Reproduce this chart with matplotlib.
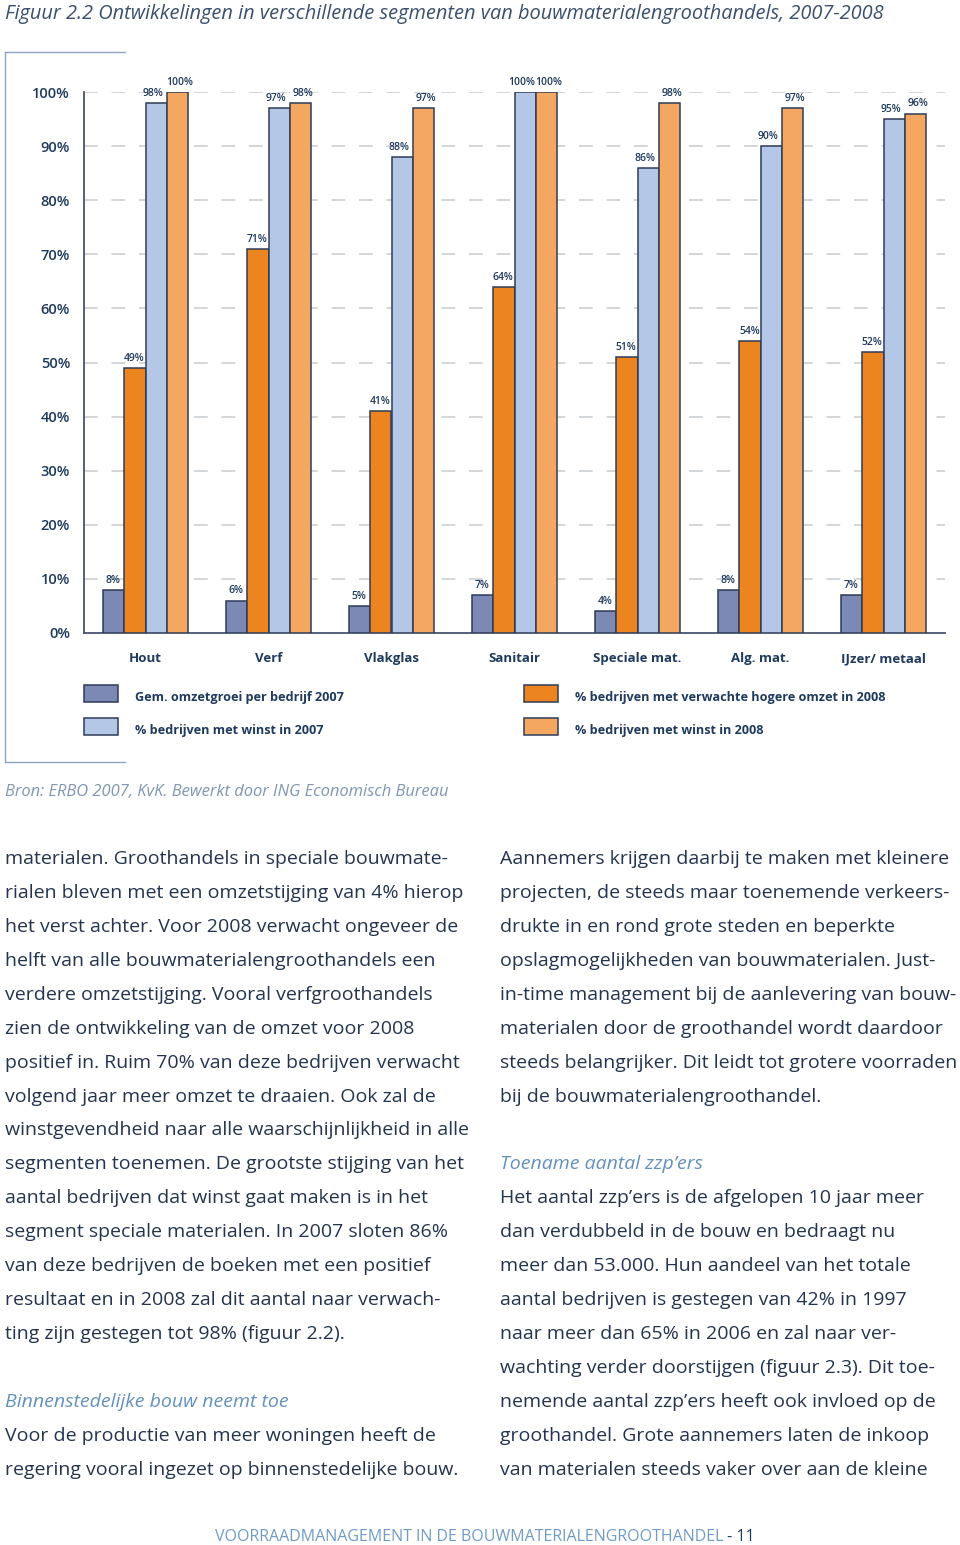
import matplotlib
matplotlib.use('Agg')
import matplotlib.pyplot as plt
import numpy as np
from matplotlib.lines import Line2D
from matplotlib.patches import Rectangle

plt.rcParams['font.family'] = ['Open Sans', 'DejaVu Sans']

# data
categories = ['Hout', 'Verf', 'Vlakglas', 'Sanitair', 'Speciale mat.', 'Alg. mat.', 'IJzer/ metaal']
omzetgroei_2007 = [8, 6, 5, 7, 4, 8, 7]
hogere_omzet_2008 = [49, 71, 41, 64, 51, 54, 52]
winst_2007 = [98, 97, 88, 100, 86, 90, 95]
winst_2008 = [100, 98, 97, 100, 98, 97, 96]
series_names = ['Gem. omzetgroei per bedrijf 2007',
                '% bedrijven met verwachte hogere omzet in 2008',
                '% bedrijven met winst in 2007',
                '% bedrijven met winst in 2008']
yticks = [0, 10, 20, 30, 40, 50, 60, 70, 80, 90, 100]

title = 'Figuur 2.2 Ontwikkelingen in verschillende segmenten van bouwmaterialengroothandels, 2007-2008'
source = 'Bron: ERBO 2007, KvK. Bewerkt door ING Economisch Bureau'

left_col = [
    'materialen. Groothandels in speciale bouwmate-',
    'rialen bleven met een omzetstijging van 4% hierop',
    'het verst achter. Voor 2008 verwacht ongeveer de',
    'helft van alle bouwmaterialengroothandels een',
    'verdere omzetstijging. Vooral verfgroothandels',
    'zien de ontwikkeling van de omzet voor 2008',
    'positief in. Ruim 70% van deze bedrijven verwacht',
    'volgend jaar meer omzet te draaien. Ook zal de',
    'winstgevendheid naar alle waarschijnlijkheid in alle',
    'segmenten toenemen. De grootste stijging van het',
    'aantal bedrijven dat winst gaat maken is in het',
    'segment speciale materialen. In 2007 sloten 86%',
    'van deze bedrijven de boeken met een positief',
    'resultaat en in 2008 zal dit aantal naar verwach-',
    'ting zijn gestegen tot 98% (figuur 2.2).',
    '',
    '#Binnenstedelijke bouw neemt toe',
    'Voor de productie van meer woningen heeft de',
    'regering vooral ingezet op binnenstedelijke bouw.',
]
right_col = [
    'Aannemers krijgen daarbij te maken met kleinere',
    'projecten, de steeds maar toenemende verkeers-',
    'drukte in en rond grote steden en beperkte',
    'opslagmogelijkheden van bouwmaterialen. Just-',
    'in-time management bij de aanlevering van bouw-',
    'materialen door de groothandel wordt daardoor',
    'steeds belangrijker. Dit leidt tot grotere voorraden',
    'bij de bouwmaterialengroothandel.',
    '',
    '#Toename aantal zzp\u2019ers',
    'Het aantal zzp\u2019ers is de afgelopen 10 jaar meer',
    'dan verdubbeld in de bouw en bedraagt nu',
    'meer dan 53.000. Hun aandeel van het totale',
    'aantal bedrijven is gestegen van 42% in 1997',
    'naar meer dan 65% in 2006 en zal naar ver-',
    'wachting verder doorstijgen (figuur 2.3). Dit toe-',
    'nemende aantal zzp\u2019ers heeft ook invloed op de',
    'groothandel. Grote aannemers laten de inkoop',
    'van materialen steeds vaker over aan de kleine',
]

W, H = 960, 1545
navy = '#1f3a5f'
body_col = '#24344f'
head_col = '#6390bd'
colors = ['#7b89b4', '#ec8420', '#b4c7e6', '#f3a760']
edge = '#2e3c58'


def fx(px):
    return px / W


def fy(py):
    return 1 - py / H


fig = plt.figure(figsize=(W / 100, H / 100), dpi=100)

ax = fig.add_axes([fx(84), fy(633), fx(945) - fx(84), (633 - 92) / H])
x = np.arange(len(categories))
bw = 0.171
offsets = [-1.5 * bw, -0.5 * bw, 0.5 * bw, 1.5 * bw]
label_shift = [-0.5, -0.5, -2.5, 2]  # points, keeps paired labels apart
all_series = [omzetgroei_2007, hogere_omzet_2008, winst_2007, winst_2008]
for vals, off, c, name, sh in zip(all_series, offsets, colors, series_names, label_shift):
    ax.bar(x + off, vals, bw, color=c, edgecolor=edge, linewidth=1.1, label=name, zorder=3)
    for xi, v in zip(x, vals):
        ax.annotate(f'{v}%', (xi + off, v), xytext=(sh, 3), textcoords='offset points',
                    ha='center', va='bottom', fontsize=7.5, fontweight='semibold',
                    color=navy, annotation_clip=False)

ax.set_xlim(-0.5, len(categories) - 0.5)
ax.set_ylim(0, 100)
ax.set_yticks(yticks)
ax.set_yticklabels([f'{t}%' for t in yticks], fontsize=10.5, fontweight='semibold', color=navy)
ax.set_xticks(x)
ax.set_xticklabels(categories, fontsize=9.5, fontweight='bold', color=navy)
ax.tick_params(axis='y', length=0, pad=10)
ax.tick_params(axis='x', length=0, pad=14)
for t in yticks[1:]:
    ax.axhline(t, color='#c8ccd0', lw=1.1, dashes=(9, 9), zorder=1)
for s in ['top', 'right']:
    ax.spines[s].set_visible(False)
ax.spines['left'].set_color('#46546e')
ax.spines['bottom'].set_color('#46546e')
ax.spines['left'].set_linewidth(1.3)
ax.spines['bottom'].set_linewidth(1.3)

# legend, drawn by hand in two columns
leg_pos = [(84, 685), (524, 685), (84, 718), (524, 718)]
for (px, py), c, name in zip(leg_pos, colors, series_names):
    fig.add_artist(Rectangle((fx(px), fy(py + 17)), 34 / W, 17 / H, facecolor=c,
                             edgecolor=edge, linewidth=1.1, transform=fig.transFigure))
    fig.text(fx(px + 51), fy(py + 16), name, fontsize=9.05, fontweight='bold',
             color=navy, va='baseline')

# frame bracket around the chart
frame_col = '#8fa6c2'
fig.add_artist(Line2D([fx(5), fx(125)], [fy(52), fy(52)], color=frame_col, lw=1))
fig.add_artist(Line2D([fx(5), fx(5)], [fy(52), fy(762)], color=frame_col, lw=1))
fig.add_artist(Line2D([fx(5), fx(125)], [fy(762), fy(762)], color=frame_col, lw=1))

fig.text(fx(5), fy(19), title, fontsize=14.4, style='italic', color='#3b506e', va='baseline')
fig.text(fx(5), fy(796), source, fontsize=11.9, style='italic', color='#7f97b2', va='baseline')

# body text columns
for col, x0 in [(left_col, 5), (right_col, 500)]:
    for i, line in enumerate(col):
        yb = 864 + i * 33.93
        if line.startswith('#'):
            fig.text(fx(x0), fy(yb), line[1:], fontsize=14, style='italic',
                     color=head_col, va='baseline')
        else:
            fig.text(fx(x0), fy(yb), line, fontsize=14, color=body_col, va='baseline')

# footer
foot = fig.text(fx(215), fy(1541), 'VOORRAADMANAGEMENT IN DE BOUWMATERIALENGROOTHANDEL',
                fontsize=11.5, color='#6f9bc8', va='baseline')
r = fig.canvas.get_renderer()
bb = foot.get_window_extent(renderer=r)
fig.text(bb.x1 / W, fy(1541), ' - 11', fontsize=11.5, color=navy, va='baseline')

fig.savefig('out.png', dpi=100)
